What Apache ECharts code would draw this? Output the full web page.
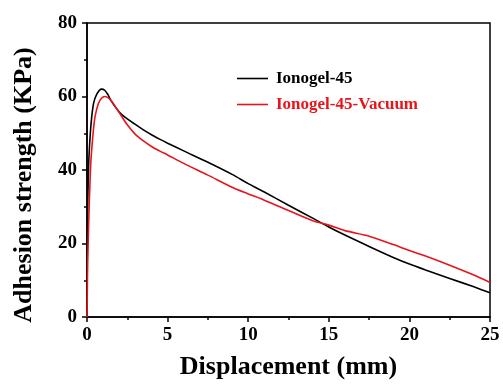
<!DOCTYPE html>
<html><head><meta charset="utf-8">
<script src="https://cdn.jsdelivr.net/npm/echarts@6/dist/echarts.min.js"></script>
<style>html,body{margin:0;padding:0;background:#fff}#c{width:503px;height:385px}</style>
</head><body><div id="c"></div>
<script>
var seriesNames = ["Ionogel-45", "Ionogel-45-Vacuum"];
var ionogelX = [0, 0.02, 0.05, 0.1, 0.15, 0.25, 0.4, 0.6, 0.9, 1.1, 1.3, 1.5, 2.0, 2.5, 3.0, 3.5, 4.0, 4.5, 5.0, 6.0, 7.5, 9.0, 10.0, 11.0, 12.5, 14.0, 15.0, 16.0, 17.5, 19.0, 20.0, 21.0, 22.5, 24.0, 25.0];
var ionogelY = [0, 20, 32, 41, 46, 52.5, 58, 60.6, 62, 61.7, 60.5, 58.8, 55.8, 53.9, 52.4, 50.9, 49.6, 48.4, 47.3, 45.2, 42.1, 38.8, 36.3, 34.0, 30.4, 26.9, 24.5, 22.3, 19.2, 16.2, 14.4, 12.8, 10.5, 8.2, 6.6];
var vacuumX = [0, 0.04, 0.1, 0.18, 0.25, 0.4, 0.5, 0.7, 0.9, 1.1, 1.3, 1.5, 2.0, 2.5, 3.0, 3.5, 4.0, 4.5, 5.0, 6.0, 7.5, 9.0, 10.0, 11.0, 12.5, 14.0, 15.0, 16.0, 17.5, 19.0, 20.0, 21.0, 22.5, 24.0, 25.0];
var vacuumY = [0, 14, 25, 36, 43, 51, 54.5, 58, 59.5, 60, 59.7, 58.9, 55.6, 52.3, 49.7, 47.9, 46.4, 45.2, 44.1, 41.8, 38.6, 35.3, 33.5, 31.8, 29, 26.2, 25, 23.5, 22, 19.7, 18.1, 16.6, 14.1, 11.4, 9.4];
var xTicks = [0, 5, 10, 15, 20, 25];
var yTicks = [0, 20, 40, 60, 80];

function pairs(xs, ys) { return xs.map(function (x, i) { return [x, ys[i]]; }); }
var FONT = '"Liberation Serif", "Times New Roman", serif';
var chart = echarts.init(document.getElementById('c'), null, {renderer: 'canvas'});
chart.setOption({
  animation: false,
  backgroundColor: '#fff',
  grid: {left: 87, right: 13, top: 23, bottom: 65, show: true, borderColor: '#000', borderWidth: 1.5, backgroundColor: 'transparent'},
  legend: {
    orient: 'vertical', left: 232, top: 65, itemWidth: 31, itemHeight: 14, itemGap: 9,
    icon: 'path://M0,6.2 L31,6.2 L31,7.8 L0,7.8 Z',
    textStyle: {fontFamily: FONT, fontWeight: 'bold', fontSize: 17, lineHeight: 17, padding: [0, 0, 0, 3]},
    data: [
      {name: seriesNames[0], textStyle: {color: '#000'}},
      {name: seriesNames[1], textStyle: {color: '#e8141b'}}
    ]
  },
  xAxis: {
    type: 'value', min: 0, max: 25, interval: 5,
    name: 'Displacement (mm)', nameLocation: 'middle', nameGap: 37,
    nameTextStyle: {fontFamily: FONT, fontWeight: 'bold', fontSize: 26, color: '#000'},
    axisLine: {show: true, onZero: false, lineStyle: {color: '#000', width: 1.5}},
    axisTick: {show: true, inside: false, length: 5, lineStyle: {color: '#000', width: 1.5}},
    minorTick: {show: true, splitNumber: 2, length: 3, lineStyle: {color: '#000', width: 1.5}},
    axisLabel: {fontFamily: FONT, fontWeight: 'bold', fontSize: 19, color: '#000', margin: 9,
      formatter: function (v) { return xTicks.indexOf(v) >= 0 ? String(v) : ''; }},
    splitLine: {show: false}
  },
  yAxis: {
    type: 'value', min: 0, max: 80, interval: 20,
    name: 'Adhesion strength (KPa)', nameLocation: 'middle', nameGap: 50,
    nameTextStyle: {fontFamily: FONT, fontWeight: 'bold', fontSize: 26, color: '#000', padding: [0, 30, 0, 0]},
    axisLine: {show: true, onZero: false, lineStyle: {color: '#000', width: 1.5}},
    axisTick: {show: true, inside: false, length: 5, lineStyle: {color: '#000', width: 1.5}},
    minorTick: {show: true, splitNumber: 2, length: 3, lineStyle: {color: '#000', width: 1.5}},
    axisLabel: {fontFamily: FONT, fontWeight: 'bold', fontSize: 19, color: '#000', margin: 10,
      formatter: function (v) { return yTicks.indexOf(v) >= 0 ? String(v) : ''; }},
    splitLine: {show: false}
  },
  series: [
    {name: seriesNames[0], type: 'line', data: pairs(ionogelX, ionogelY), showSymbol: false, smooth: 0.3,
      lineStyle: {color: '#000', width: 1.6}, itemStyle: {color: '#000'}, z: 3},
    {name: seriesNames[1], type: 'line', data: pairs(vacuumX, vacuumY), showSymbol: false, smooth: 0.3,
      lineStyle: {color: '#e8141b', width: 1.6}, itemStyle: {color: '#e8141b'}, z: 4}
  ]
});
</script></body></html>
